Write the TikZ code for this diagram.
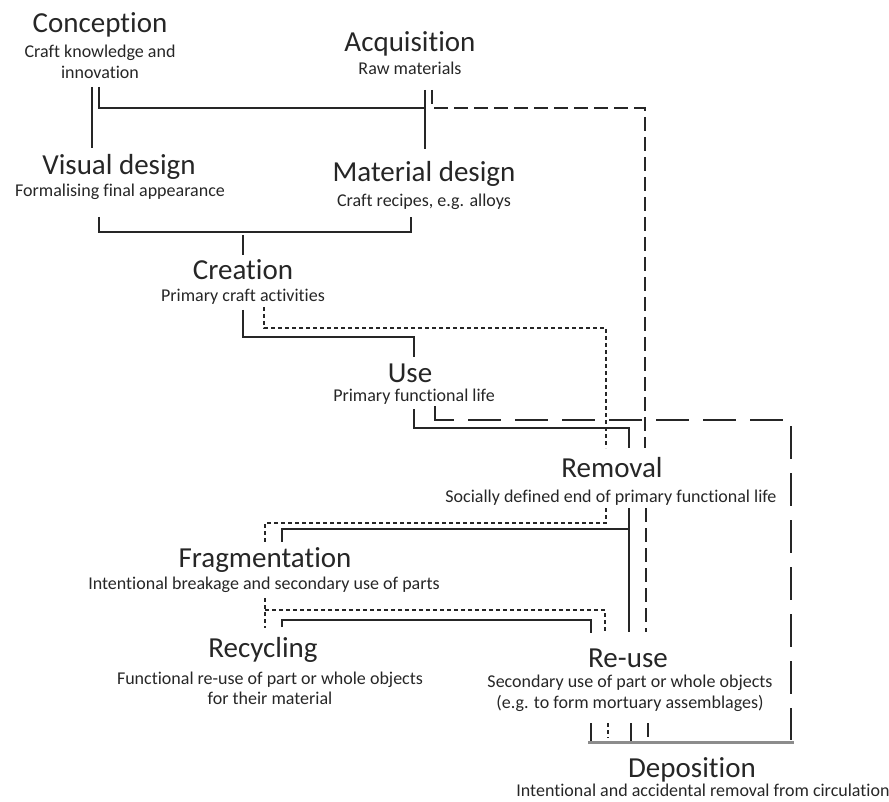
\documentclass[tikz,border=0pt]{standalone}
\usepackage{fontspec}
\setmainfont{Carlito}[Ligatures=NoCommon]
\begin{document}
\begin{tikzpicture}[x=1pt,y=-1pt,
  ttl/.style={anchor=base,inner sep=0pt,font=\fontsize{29}{32}\selectfont,text=black!85},
  sub/.style={anchor=base,inner sep=0pt,font=\fontsize{18}{20}\selectfont,text=black!85},
  solidline/.style={line width=1.7pt,black!85},
  dotline/.style={line width=1.7pt,black!85,dash pattern=on 4pt off 3pt},
  dashline/.style={line width=1.7pt,black!85,dash pattern=on 14pt off 6pt},
  longdash/.style={line width=1.7pt,black!85,dash pattern=on 33pt off 14pt},
  depline/.style={line width=3pt,black!45}]
\useasboundingbox (0,0) rectangle (889,802);

% texts
\node[ttl] (conT) at (100,33) {Conception};
\node[sub] (conS1) at (100,58) {Craft knowledge and};
\node[sub] (conS2) at (100,79) {innovation};
\node[ttl] (acqT) at (410,52) {Acquisition};
\node[sub] (acqS) at (410,75) {Raw materials};
\node[ttl] (visT) at (119,175) {Visual design};
\node[sub] (visS) at (120,197) {Formalising final appearance};
\node[ttl] (matT) at (424,182) {Material design};
\node[sub] (matS) at (424,207) {Craft recipes, e.g. alloys};
\node[ttl] (creT) at (243,280) {Creation};
\node[sub] (creS) at (243,302) {Primary craft activities};
\node[ttl] (useT) at (410,382) {Use};
\node[sub] (useS) at (414,401) {Primary functional life};
\node[ttl] (remT) at (612,477) {Removal};
\node[sub] (remS) at (611,502) {Socially defined end of primary functional life};
\node[ttl] (fraT) at (265,567) {Fragmentation};
\node[sub] (fraS) at (264,589) {Intentional breakage and secondary use of parts};
\node[ttl] (recT) at (263,657) {Recycling};
\node[sub] (recS1) at (270,684) {Functional re-use of part or whole objects};
\node[sub] (recS2) at (270,704) {for their material};
\node[ttl] (reuT) at (628,667) {Re-use};
\node[sub] (reuS1) at (630,687) {Secondary use of part or whole objects};
\node[sub] (reuS2) at (630,708) {(e.g. to form mortuary assemblages)};
\node[ttl] (depT) at (692,777) {Deposition};
\node[sub] (depS) at (703,796) {Intentional and accidental removal from circulation};

% solid connectors
\draw[solidline] (92,87) -- (92,148);
\draw[solidline] (99,87) -- (99,108) -- (425,108);
\draw[solidline] (425,90) -- (425,149);
\draw[solidline] (99,217) -- (99,232) -- (411,232) -- (411,217);
\draw[solidline] (243,235) -- (243,255);
\draw[solidline] (243,310) -- (243,337) -- (414,337) -- (414,357);
\draw[solidline] (414,409) -- (414,428) -- (629,428) -- (629,448);
\draw[solidline] (629,508) -- (629,632);
\draw[solidline] (629,529) -- (282,529) -- (282,542);
\draw[solidline] (282,627) -- (282,620) -- (591,620) -- (591,633);
\draw[solidline] (591,723) -- (591,741);
\draw[solidline] (631,723) -- (631,741);

% dashed (acquisition)
\draw[dashline] (432,90) -- (432,108) -- (645,108) -- (645,448);
\draw[dashline] (646,508) -- (646,632);
\draw[solidline] (648,723) -- (648,737);

% dotted
\draw[dotline] (264,307) -- (264,328) -- (606,328) -- (606,448);
\draw[dotline] (606,508) -- (606,523) -- (265,523) -- (265,542);
\draw[dotline] (265,598) -- (265,628);
\draw[dotline] (265,610) -- (605,610) -- (605,632);
\draw[dotline] (608,723) -- (608,738);

% long dashed
\draw[longdash] (435,406) -- (435,420) -- (791,420) -- (791,740);

% deposition bar
\draw[depline] (588,742) -- (794,742);
\end{tikzpicture}
\end{document}
